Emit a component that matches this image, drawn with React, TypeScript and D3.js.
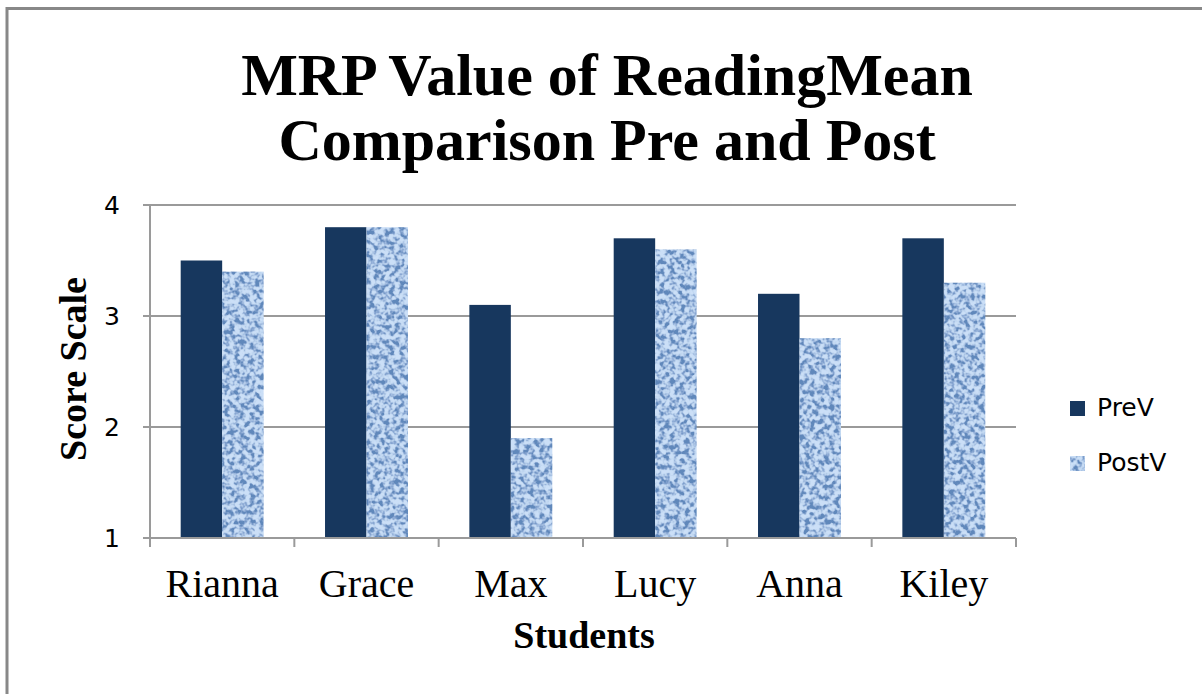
import React from "react";
import * as d3 from "d3";

const students = ["Rianna", "Grace", "Max", "Lucy", "Anna", "Kiley"];
const series = ["PreV", "PostV"];
const preV = [3.5, 3.8, 3.1, 3.7, 3.2, 3.7];
const postV = [3.4, 3.8, 1.9, 3.6, 2.8, 3.3];
const yTicks = [1, 2, 3, 4];
const titleLines = ["MRP Value of ReadingMean", "Comparison Pre and Post"];

const W = 1202;
const H = 694;
const left = 150;
const right = 1016;
const top = 205;
const bottom = 538;

const App = () => {
  const x = d3.scaleBand().domain(students).range([left, right]).paddingInner(0).paddingOuter(0);
  const xInner = d3
    .scaleBand()
    .domain(series)
    .range([0, x.bandwidth()])
    .paddingInner(0)
    .paddingOuter(0.74);
  const y = d3.scaleLinear().domain([1, 4]).range([bottom, top]);

  const values = { PreV: preV, PostV: postV };

  const serif = "'Liberation Serif', 'Times New Roman', serif";
  const sans = "'DejaVu Sans', sans-serif";
  const grid = "#9a9a9a";

  // x-axis tick positions: every band edge
  const edges = students.map((s) => x(s)!).concat([right]);

  // PreV solid navy, PostV a blue "canvas" texture
  const fillFor = (k: string) => (k === "PreV" ? "#17375E" : "#8DB3E2");
  const filterFor = (k: string) => (k === "PostV" ? "url(#texture)" : undefined);

  return (
    <svg width={W} height={H} style={{ position: "absolute", left: 0, top: 0, background: "#fff" }}>
      <defs>
        <filter id="texture" x="0" y="0" width="1" height="1" filterUnits="objectBoundingBox">
          <feTurbulence type="fractalNoise" baseFrequency="0.2" numOctaves="2" seed="7" result="n" />
          <feColorMatrix
            in="n"
            type="matrix"
            values="3 0 0 0 -1  3 0 0 0 -1  3 0 0 0 -1  0 0 0 0 1"
            result="g"
          />
          <feComponentTransfer in="g" result="c">
            <feFuncR type="table" tableValues="0.12 0.28 0.52 0.6" />
            <feFuncG type="table" tableValues="0.25 0.42 0.67 0.74" />
            <feFuncB type="table" tableValues="0.5 0.68 0.87 0.93" />
          </feComponentTransfer>
          <feComposite in="c" in2="SourceGraphic" operator="in" />
        </filter>
      </defs>

      {/* outer frame */}
      <rect x={7} y={8.5} width={W + 20} height={H + 20} fill="#fff" stroke="#888" strokeWidth={3} />

      {/* title */}
      <text textAnchor="middle" fontFamily={serif} fontWeight="bold" fontSize={60} fill="#000">
        {titleLines.map((t, i) => (
          <tspan key={t} x={607} y={95 + i * 65}>
            {t}
          </tspan>
        ))}
      </text>

      {/* gridlines */}
      {yTicks.map((t) => (
        <line key={"g" + t} x1={left - 7} x2={right} y1={y(t)} y2={y(t)} stroke={grid} strokeWidth={2} />
      ))}
      {yTicks.map((t) => (
        <text key={"t" + t} x={120} y={y(t) + 9} textAnchor="end" fontFamily={sans} fontSize={25} fill="#000">
          {t}
        </text>
      ))}

      {/* bars */}
      {students.map((s, i) =>
        series.map((k) => {
          const v = values[k as keyof typeof values][i];
          return (
            <rect
              key={s + k}
              x={x(s)! + xInner(k)!}
              y={y(v)}
              width={xInner.bandwidth()}
              height={y(1) - y(v)}
              fill={fillFor(k)}
              filter={filterFor(k)}
            />
          );
        })
      )}

      {/* axes */}
      <line x1={left} x2={left} y1={top} y2={bottom} stroke={grid} strokeWidth={2} />
      <line x1={left} x2={right} y1={bottom} y2={bottom} stroke={grid} strokeWidth={2} />
      {edges.map((e, i) => (
        <line key={"e" + i} x1={e} x2={e} y1={bottom} y2={bottom + 9} stroke={grid} strokeWidth={2} />
      ))}

      {/* category labels */}
      {students.map((s) => (
        <text
          key={"l" + s}
          x={x(s)! + x.bandwidth() / 2}
          y={597}
          textAnchor="middle"
          fontFamily={serif}
          fontSize={40}
          fill="#000"
        >
          {s}
        </text>
      ))}

      {/* axis titles */}
      <text x={584} y={648} textAnchor="middle" fontFamily={serif} fontWeight="bold" fontSize={38} fill="#000">
        Students
      </text>
      <text
        transform="translate(86,369) rotate(-90)"
        textAnchor="middle"
        fontFamily={serif}
        fontWeight="bold"
        fontSize={38}
        fill="#000"
      >
        Score Scale
      </text>

      {/* legend */}
      {series.map((k, i) => (
        <g key={"lg" + k} transform={`translate(1070, ${401 + i * 55})`}>
          <rect width={15} height={15} fill={fillFor(k)} filter={filterFor(k)} />
          <text x={27} y={15} fontFamily={sans} fontSize={25} fill="#000">
            {k}
          </text>
        </g>
      ))}
    </svg>
  );
};

export default App;
